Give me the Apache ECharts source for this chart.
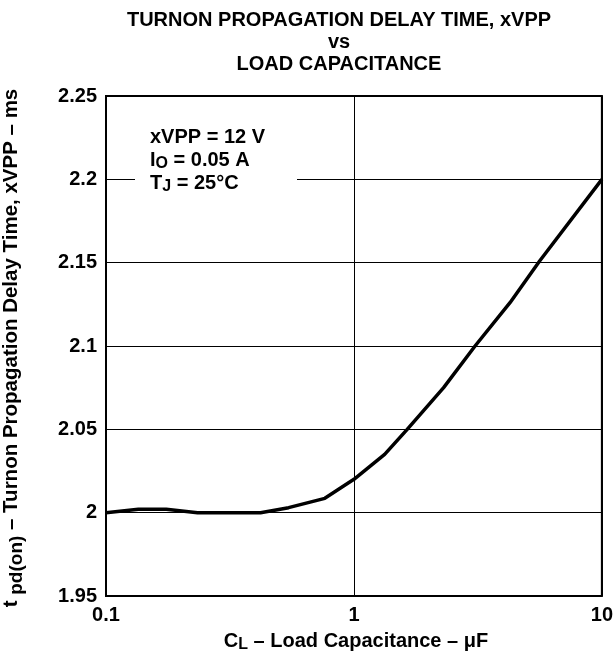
<!DOCTYPE html>
<html>
<head>
<meta charset="utf-8">
<script src="https://cdn.jsdelivr.net/npm/echarts@6/dist/echarts.min.js"></script>
<style>
html,body{margin:0;padding:0;background:#fff;}
#chart{width:616px;height:660px;}
</style>
</head>
<body>
<div id="chart"></div>
<script>
// Data
const capacitance = [0.1, 0.135, 0.175, 0.234, 0.42, 0.545, 0.763, 1.0, 1.33, 1.64, 2.3, 3.08, 4.26, 5.61, 10];
const delayTime   = [2.0, 2.002, 2.002, 2.0, 2.0, 2.003, 2.0086, 2.02, 2.035, 2.05, 2.075, 2.1, 2.126, 2.151, 2.2];
const yTicks = [1.95, 2.0, 2.05, 2.1, 2.15, 2.2, 2.25];
const xTicks = [0.1, 1, 10];

const FONT = "'Liberation Sans', Arial, Helvetica, sans-serif";
const FS = 20;

const chart = echarts.init(document.getElementById('chart'));
const seriesData = capacitance.map((c, i) => [c, delayTime[i]]);

function tok(size, lh, padTop) {
  return { fontFamily: FONT, fontWeight: 'bold', fontSize: size, lineHeight: lh, verticalAlign: 'top',
           padding: [padTop, 0, 0, 0], fill: '#000', color: '#000' };
}

chart.setOption({
  animation: false,
  backgroundColor: '#fff',
  grid: { left: 106, right: 10, top: 96, bottom: 64, show: true, borderColor: '#000', borderWidth: 2, backgroundColor: 'transparent', containLabel: false },
  xAxis: {
    type: 'log', logBase: 10, min: xTicks[0], max: xTicks[xTicks.length - 1],
    axisLine: { show: false }, axisTick: { show: false },
    splitLine: { show: true, lineStyle: { color: '#000', width: 1 } },
    minorSplitLine: { show: false },
    axisLabel: { color: '#000', fontFamily: FONT, fontWeight: 'bold', fontSize: FS, margin: 9,
      formatter: v => String(+(+v).toPrecision(3)) }
  },
  yAxis: {
    type: 'value', min: yTicks[0], max: yTicks[yTicks.length - 1], interval: 0.05,
    axisLine: { show: false }, axisTick: { show: false },
    splitLine: { show: true, lineStyle: { color: '#000', width: 1 } },
    axisLabel: { color: '#000', fontFamily: FONT, fontWeight: 'bold', fontSize: FS, margin: 9,
      formatter: v => String(+(+v).toFixed(2)) }
  },
  series: [{
    type: 'line', data: seriesData, showSymbol: false, symbol: 'none', smooth: false,
    lineStyle: { color: '#000', width: 3.5 }, z: 5
  }],
  graphic: [
    { type: 'rect', z: 3, shape: { x: 135, y: 118, width: 162, height: 82 }, style: { fill: '#fff' } },
    { type: 'text', z: 6, x: 150, y: 127,
      style: { text: '{a|xVPP = 12 V}\n{a|I}{s|O}{a| = 0.05 A}\n{a|T}{s|J}{a| = 25°C}',
        rich: { a: tok(FS, 23, 0), s: tok(FS - 4, 23, 6) }, fill: '#000' } },
    { type: 'text', z: 6, x: 339, y: 9,
      style: { text: 'TURNON PROPAGATION DELAY TIME, xVPP\nvs\nLOAD CAPACITANCE',
        fontFamily: FONT, fontWeight: 'bold', fontSize: FS, lineHeight: 22,
        textAlign: 'center', align: 'center', fill: '#000' } },
    { type: 'text', z: 6, x: 356, y: 631,
      style: { text: '{a|C}{s|L}{a| – Load Capacitance – μF}',
        rich: { a: tok(FS, FS + 2, 0), s: tok(FS - 4, FS + 2, 6) }, textAlign: 'center', align: 'center', fill: '#000' } },
    { type: 'text', z: 6, x: 12, y: 348, rotation: Math.PI / 2,
      style: { text: '{a|t }{s|pd(on)}{a| – Turnon Propagation Delay Time, xVPP – ms}',
        rich: { a: tok(20.5, 22, 0), s: tok(19, 22, 6) }, textAlign: 'center', align: 'center',
        textVerticalAlign: 'middle', verticalAlign: 'middle', fill: '#000' } }
  ]
});
</script>
</body>
</html>
